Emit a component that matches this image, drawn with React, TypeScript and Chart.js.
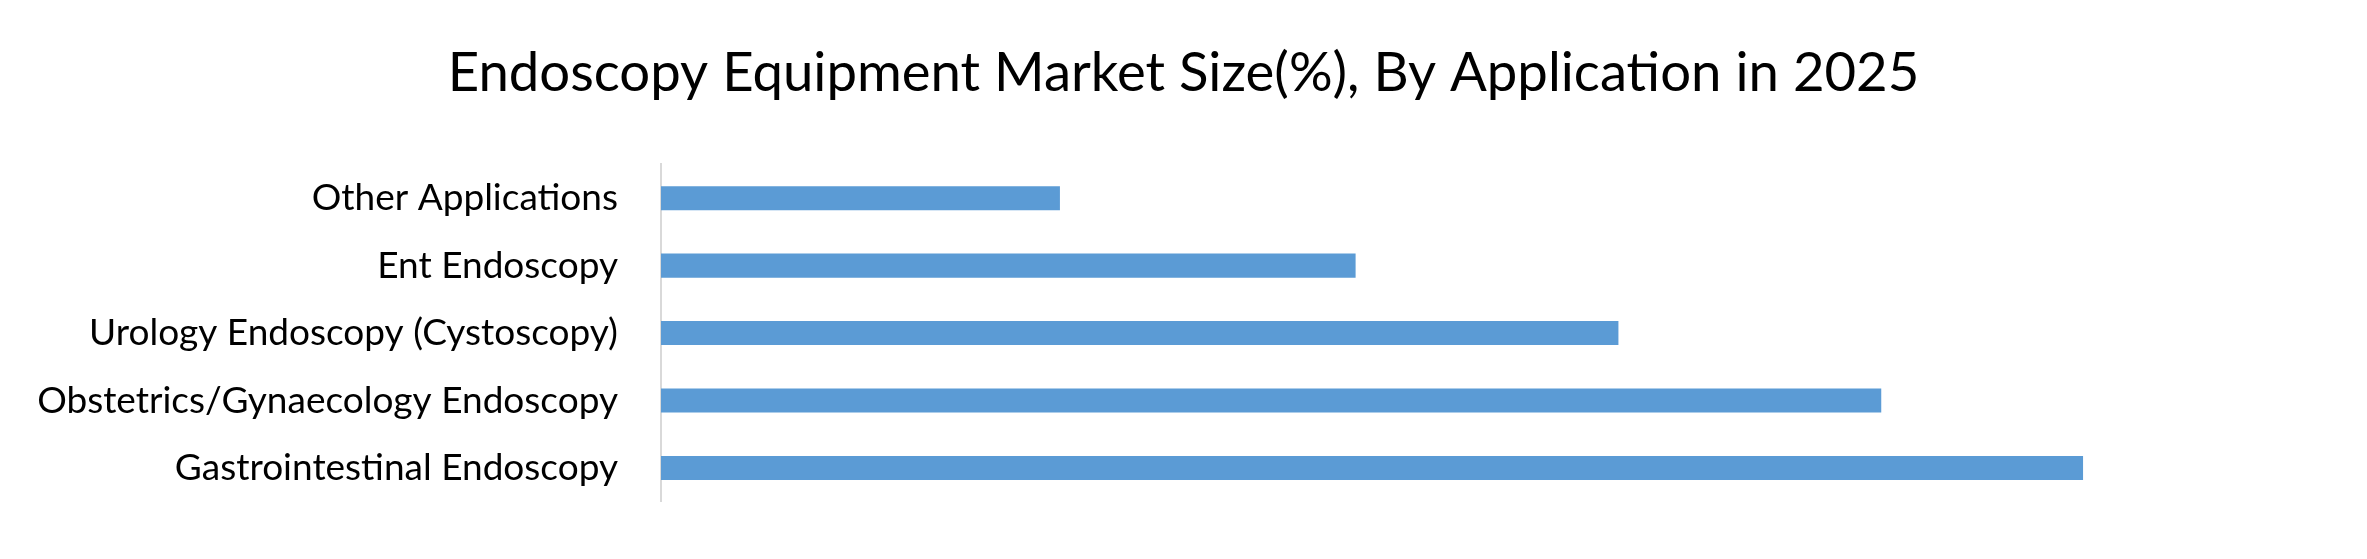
import { useEffect, useRef } from "react";
import { Chart, registerables } from "chart.js";

Chart.register(...registerables);

const FONT = "Lato, 'Open Sans', sans-serif";
const TEXT = "#000000";
const BAR = "#5b9bd5";
const AXIS = "#d9d9d9";

const TITLE = "Endoscopy Equipment Market Size(%), By Application in 2025";

// top to bottom, as in the picture
const categories = [
  "Other Applications",
  "Ent Endoscopy",
  "Urology Endoscopy (Cystoscopy)",
  "Obstetrics/Gynaecology Endoscopy",
  "Gastrointestinal Endoscopy",
];
const shares = [8.5, 14.8, 20.4, 26.0, 30.3];

// hidden value axis; chosen so the plot runs to the right edge
const X_MAX = 36.35;

export default function App() {
  const ref = useRef<HTMLCanvasElement>(null);

  useEffect(() => {
    document.body.style.margin = "0";
    if (!ref.current) return;
    const chart = new Chart(ref.current, {
      type: "bar",
      data: {
        labels: categories,
        datasets: [
          {
            label: "Share",
            data: shares,
            backgroundColor: BAR,
            borderWidth: 0,
            categoryPercentage: 1,
            barPercentage: 0.356,
          },
        ],
      },
      options: {
        indexAxis: "y",
        animation: false,
        responsive: true,
        maintainAspectRatio: false,
        devicePixelRatio: 1,
        layout: { padding: { top: 0, right: 0, bottom: 51, left: 0 } },
        plugins: {
          legend: { display: false },
          tooltip: { enabled: false },
          title: {
            display: true,
            text: TITLE,
            color: TEXT,
            font: { family: FONT, size: 54.5, weight: "normal", lineHeight: 1.2 },
            padding: { top: 41, bottom: 58 },
          },
        },
        scales: {
          x: { display: false, min: 0, max: X_MAX },
          y: {
            grid: { display: false },
            border: { display: true, color: AXIS, width: 2 },
            ticks: { color: TEXT, padding: 35, font: { family: FONT, size: 37 } },
            afterFit: (scale) => {
              scale.width = 661;
            },
          },
        },
      },
    });
    return () => chart.destroy();
  }, []);

  return (
    <div style={{ width: 2367, height: 559, position: "relative", background: "#fff" }}>
      <canvas ref={ref} style={{ display: "block" }} />
    </div>
  );
}
